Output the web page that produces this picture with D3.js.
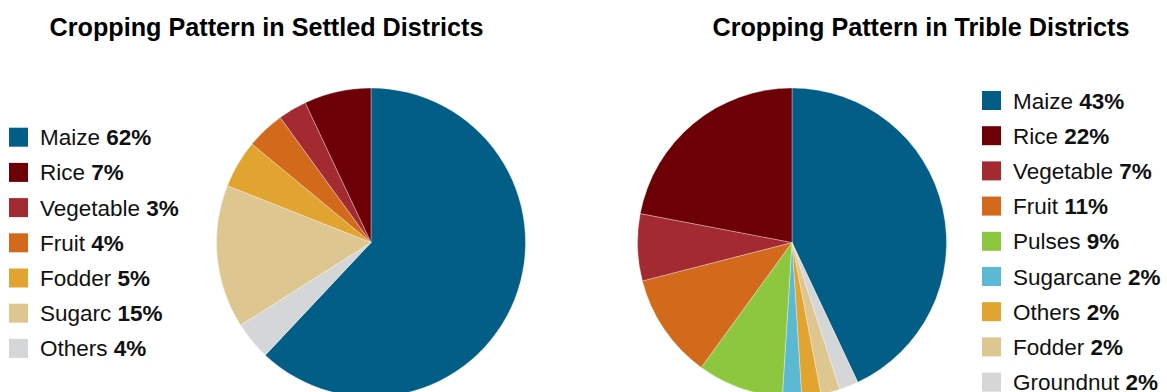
<!DOCTYPE html>
<html>
<head>
<meta charset="utf-8">
<script src="https://cdn.jsdelivr.net/npm/d3@7"></script>
<style>
  html, body { margin: 0; padding: 0; background: #fff; }
  svg { display: block; }
  text { font-family: "Liberation Sans", Arial, Helvetica, sans-serif; }
</style>
</head>
<body>
<svg id="chart" width="1167" height="392"></svg>
<script>
// ---- Data ----
const settledTitle = "Cropping Pattern in Settled Districts";
const settledCategories = ["Maize", "Rice", "Vegetable", "Fruit", "Fodder", "Sugarc", "Others"];
const settledValues = [62, 7, 3, 4, 5, 15, 4];

const tribalTitle = "Cropping Pattern in Trible Districts";
const tribalCategories = ["Maize", "Rice", "Vegetable", "Fruit", "Pulses", "Sugarcane", "Others", "Fodder", "Groundnut"];
const tribalValues = [43, 22, 7, 11, 9, 2, 2, 2, 2];

const colorMap = {
  "Maize": "#025e87",
  "Rice": "#6d0007",
  "Vegetable": "#a32a31",
  "Fruit": "#d2691b",
  "Fodder": "#e2a431",
  "Sugarc": "#dec690",
  "Others": "#d5d6d8",
  "Pulses": "#8dc63f",
  "Sugarcane": "#5bb9d3",
  "Groundnut": "#d5d6d8"
};
const tribalColorMap = Object.assign({}, colorMap, { "Others": "#e2a431", "Fodder": "#dec690" });

const svg = d3.select("#chart");

function drawPie(cfg) {
  const data = cfg.categories.map((c, i) => ({ name: c, value: cfg.values[i] }));
  // Slices: first category clockwise from 12 o'clock, then remaining in reverse order
  const ordered = [data[0]].concat(data.slice(1).reverse());
  const pie = d3.pie().sort(null).value(d => d.value);
  const arc = d3.arc().innerRadius(0).outerRadius(cfg.r);
  const g = svg.append("g").attr("transform", `translate(${cfg.cx},${cfg.cy})`);
  g.selectAll("path").data(pie(ordered)).join("path")
    .attr("d", arc)
    .attr("fill", d => cfg.colors[d.data.name])
    .attr("stroke", "rgba(255,255,255,0.55)")
    .attr("stroke-width", 0.6);

  svg.append("text")
    .attr("x", cfg.titleX).attr("y", 36)
    .attr("text-anchor", "middle")
    .attr("font-size", 25.2).attr("font-weight", "bold")
    .attr("fill", "#000")
    .text(cfg.title);

  const lg = svg.append("g");
  const rows = lg.selectAll("g").data(data).join("g")
    .attr("transform", (d, i) => `translate(${cfg.legendX},${cfg.legendY + i * cfg.legendStep})`);
  rows.append("rect")
    .attr("x", 0).attr("y", -9.5).attr("width", 19).attr("height", 19)
    .attr("fill", d => cfg.colors[d.name]);
  const t = rows.append("text")
    .attr("x", 31).attr("y", 8)
    .attr("font-size", 22.5).attr("fill", "#111");
  t.append("tspan").text(d => d.name + " ");
  t.append("tspan").attr("font-weight", "bold").text(d => d.value + "%");
}

drawPie({
  title: settledTitle, categories: settledCategories, values: settledValues,
  colors: colorMap, cx: 371, cy: 242.5, r: 154.5, titleX: 266.5,
  legendX: 9, legendY: 137.2, legendStep: 35.2
});
drawPie({
  title: tribalTitle, categories: tribalCategories, values: tribalValues,
  colors: tribalColorMap, cx: 792, cy: 242.5, r: 154.5, titleX: 921,
  legendX: 982, legendY: 100.5, legendStep: 35.2
});
</script>
</body>
</html>
